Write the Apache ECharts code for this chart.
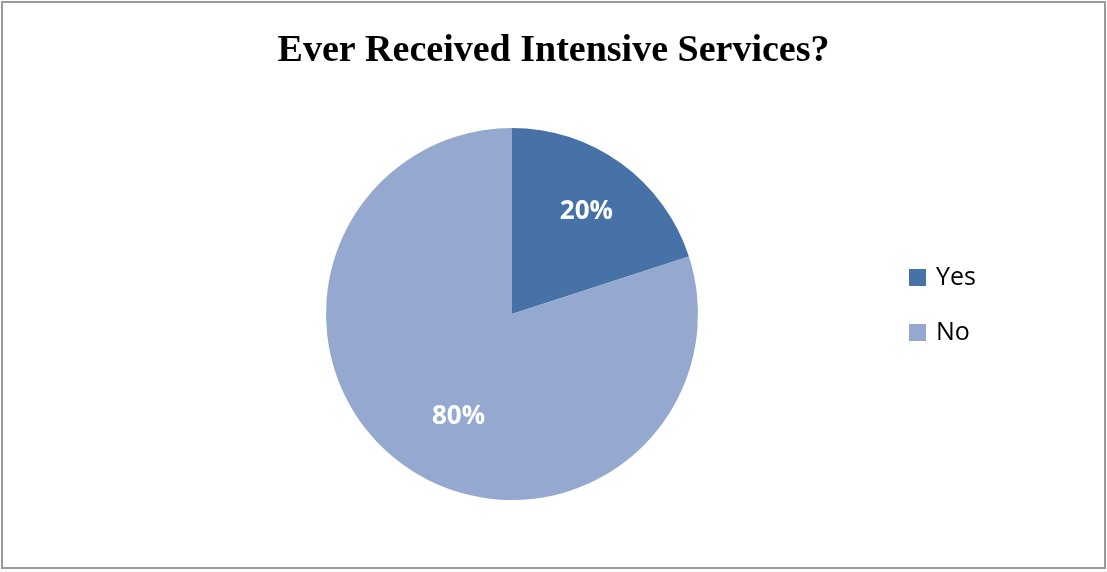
<!DOCTYPE html>
<html>
<head>
<meta charset="utf-8">
<script src="https://cdn.jsdelivr.net/npm/echarts@6/dist/echarts.min.js"></script>
<style>
  html, body { margin: 0; padding: 0; background: #fff; }
  #chart { width: 1107px; height: 572px; }
</style>
</head>
<body>
<div id="chart"></div>
<script>
// data
const titleText = 'Ever Received Intensive Services?'
const categories = ['Yes', 'No']
const shares = [20, 80]

const colors = ['#4672A8', '#95A9D0']
// label nudges so the percentages sit where the original put them
const labelOffsets = [[18, -25], [3, 25]]

const chart = echarts.init(document.getElementById('chart'))

const option = {
  animation: false,
  title: {
    text: titleText,
    left: 'center',
    top: 27,
    textStyle: {
      fontFamily: 'Liberation Serif',
      fontWeight: 'bold',
      fontSize: 38,
      color: '#000',
    },
  },
  graphic: [
    {
      type: 'rect',
      shape: { x: 2, y: 2, width: 1103, height: 566 },
      style: { fill: 'none', stroke: '#9a9a9a', lineWidth: 2 },
      silent: true,
    },
  ],
  legend: {
    orient: 'vertical',
    left: 904,
    top: 260,
    itemWidth: 17,
    itemHeight: 17,
    itemGap: 30,
    icon: 'rect',
    data: categories,
    textStyle: {
      fontFamily: 'Open Sans',
      fontSize: 25,
      color: '#000',
      padding: [0, 0, 0, 5],
    },
  },
  series: [
    {
      type: 'pie',
      center: [512, 314],
      radius: 186,
      startAngle: 90,
      clockwise: true,
      label: {
        show: true,
        position: 'inside',
        formatter: '{c}%',
        color: '#fff',
        fontFamily: 'Open Sans',
        fontWeight: 'bold',
        fontSize: 26,
      },
      labelLine: { show: false },
      emphasis: { disabled: true },
      itemStyle: { borderWidth: 0 },
      data: categories.map((name, i) => ({
        name: name,
        value: shares[i],
        itemStyle: { color: colors[i] },
        label: { offset: labelOffsets[i] },
      })),
    },
  ],
}

chart.setOption(option)
</script>
</body>
</html>
